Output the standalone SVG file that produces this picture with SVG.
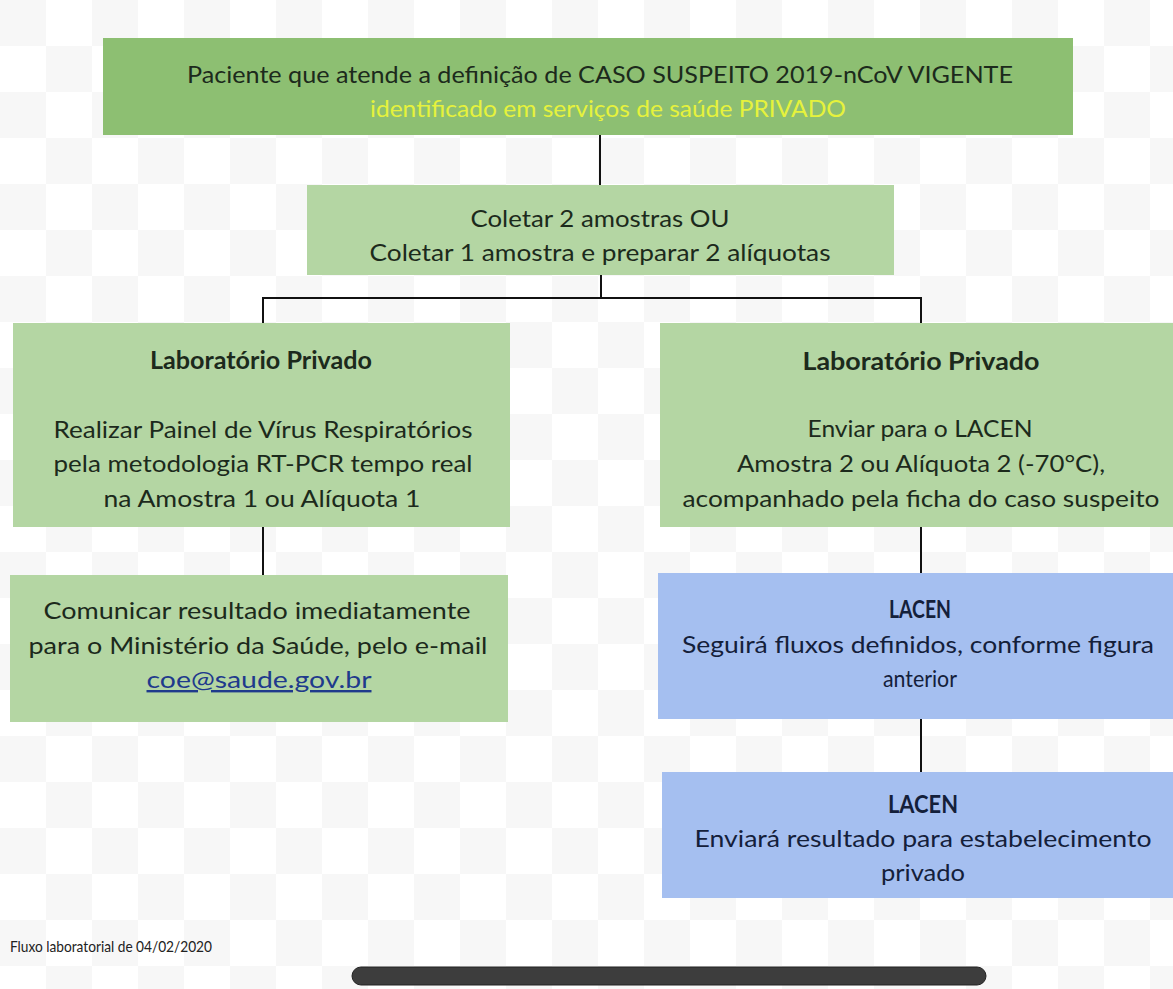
<svg xmlns="http://www.w3.org/2000/svg" width="1173" height="989" viewBox="0 0 1173 989">
<defs>
<pattern id="chk" x="0" y="0" width="92" height="92" patternUnits="userSpaceOnUse">
<rect width="92" height="92" fill="#ffffff"/>
<rect width="46" height="46" fill="#f7f7f7"/>
<rect x="46" y="46" width="46" height="46" fill="#f7f7f7"/>
</pattern>
<style>
.t{font-family:Lato,"Open Sans","Liberation Sans",sans-serif;font-size:24px;fill:#1c2a1c;text-anchor:middle}
.b{font-weight:bold}
.bl{fill:#14203a}
.top{fill:#8dbf72}
.lg{fill:#b4d6a3}
.blue{fill:#a5bff0}
.c{stroke:#111;stroke-width:2;fill:none}
</style>
</defs>
<rect width="1173" height="989" fill="url(#chk)"/>
<g id="connectors">
<path class="c" d="M600 135V185"/>
<path class="c" d="M601 275V298M263 298H921M263 297V323M921 297V323"/>
<path class="c" d="M263 527V575"/>
<path class="c" d="M921 527V573"/>
<path class="c" d="M921 719V772"/>
</g>
<g id="n1">
<rect class="top" x="103" y="38" width="970" height="97"/>
<text class="t" x="600" y="83" font-size="25" textLength="826" lengthAdjust="spacingAndGlyphs">Paciente que atende a definição de CASO SUSPEITO 2019-nCoV VIGENTE</text>
<text class="t" x="608" y="117" font-size="25" style="fill:#e6f23c" textLength="476" lengthAdjust="spacingAndGlyphs">identificado em serviços de saúde PRIVADO</text>
</g>
<g id="n2">
<rect class="lg" x="307" y="185" width="587" height="90"/>
<text class="t" x="600" y="227" textLength="259" lengthAdjust="spacingAndGlyphs">Coletar 2 amostras OU</text>
<text class="t" x="600" y="261" textLength="461" lengthAdjust="spacingAndGlyphs">Coletar 1 amostra e preparar 2 alíquotas</text>
</g>
<g id="n3">
<rect class="lg" x="13" y="323" width="497" height="204"/>
<text class="t b" x="261" y="369" textLength="222" lengthAdjust="spacingAndGlyphs">Laboratório Privado</text>
<text class="t" x="263" y="438" textLength="419" lengthAdjust="spacingAndGlyphs">Realizar Painel de Vírus Respiratórios</text>
<text class="t" x="263" y="472" textLength="419" lengthAdjust="spacingAndGlyphs">pela metodologia RT-PCR tempo real</text>
<text class="t" x="262" y="507" textLength="317" lengthAdjust="spacingAndGlyphs">na Amostra 1 ou Alíquota 1</text>
</g>
<g id="n4">
<rect class="lg" x="660" y="323" width="513" height="204"/>
<text class="t b" x="921" y="370" textLength="237" lengthAdjust="spacingAndGlyphs">Laboratório Privado</text>
<text class="t" x="920" y="437" textLength="225" lengthAdjust="spacingAndGlyphs">Enviar para o LACEN</text>
<text class="t" x="921" y="472" textLength="368" lengthAdjust="spacingAndGlyphs">Amostra 2 ou Alíquota 2 (-70°C),</text>
<text class="t" x="921" y="507" textLength="477" lengthAdjust="spacingAndGlyphs">acompanhado pela ficha do caso suspeito</text>
</g>
<g id="n5">
<rect class="lg" x="10" y="575" width="498" height="147"/>
<text class="t" x="257" y="619" textLength="427" lengthAdjust="spacingAndGlyphs">Comunicar resultado imediatamente</text>
<text class="t" x="258" y="654" textLength="459" lengthAdjust="spacingAndGlyphs">para o Ministério da Saúde, pelo e-mail</text>
<text class="t" x="259" y="688" style="fill:#1f3a8c;text-decoration:underline" textLength="225" lengthAdjust="spacingAndGlyphs">coe@saude.gov.br</text>
</g>
<g id="n6">
<rect class="blue" x="658" y="573" width="515" height="146"/>
<text class="t b bl" x="920" y="618" textLength="62" lengthAdjust="spacingAndGlyphs">LACEN</text>
<text class="t bl" x="918" y="653" textLength="472" lengthAdjust="spacingAndGlyphs">Seguirá fluxos definidos, conforme figura</text>
<text class="t bl" x="920" y="687" textLength="74" lengthAdjust="spacingAndGlyphs">anterior</text>
</g>
<g id="n7">
<rect class="blue" x="662" y="772" width="511" height="126"/>
<text class="t b bl" x="923" y="813" textLength="70" lengthAdjust="spacingAndGlyphs">LACEN</text>
<text class="t bl" x="923" y="847" textLength="457" lengthAdjust="spacingAndGlyphs">Enviará resultado para estabelecimento</text>
<text class="t bl" x="923" y="881" textLength="84" lengthAdjust="spacingAndGlyphs">privado</text>
</g>
<text x="10" y="952" style="font-family:Lato,'Open Sans','Liberation Sans',sans-serif;font-size:16px;fill:#222" textLength="202" lengthAdjust="spacingAndGlyphs">Fluxo laboratorial de 04/02/2020</text>
<rect x="352" y="967" width="634" height="18" rx="9" fill="#3d3d3d" stroke="#222" stroke-width="1"/>
</svg>
